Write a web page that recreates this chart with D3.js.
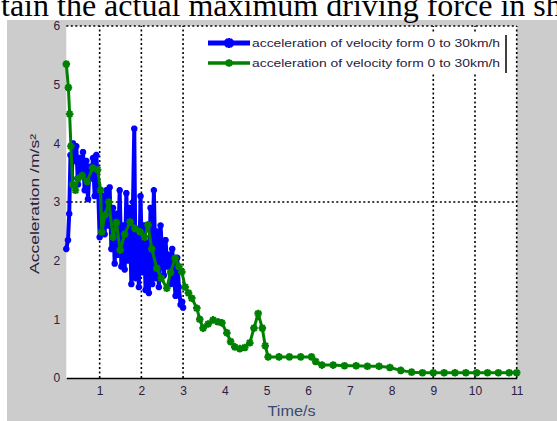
<!DOCTYPE html>
<html>
<head>
<meta charset="utf-8">
<script src="https://cdn.jsdelivr.net/npm/d3@7"></script>
<style>
  html, body { margin: 0; padding: 0; background: #fff; }
  svg { display: block; }
</style>
</head>
<body>
<svg id="chart" width="557" height="421"></svg>
<script>
// Acceleration traces, 0 to 30 km/h (time in s, acceleration in m/s^2)
const blueTime = [0.20,0.24,0.27,0.30,0.33,0.36,0.40,0.44,0.48,0.52,0.56,0.60,0.64,0.68,0.72,0.76,0.80,0.84,0.88,0.92,0.96,
  1.00,1.04,1.08,1.12,1.16,1.20,1.24,1.28,1.32,1.36,1.40,1.44,1.48,1.52,1.56,1.60,1.64,1.68,1.72,1.76,1.80,1.83,1.86,1.90,
  1.94,1.98,2.02,2.06,2.10,2.14,2.18,2.22,2.26,2.30,2.34,2.38,2.42,2.46,2.50,2.54,2.58,2.62,2.66,2.70,2.74,2.78,2.82,2.86,
  2.90,2.94,2.98,3.00];
const blueAccel = [2.20,2.35,2.80,3.80,3.40,4.00,3.70,3.95,3.30,3.75,3.50,3.85,3.20,3.70,3.05,3.60,3.40,3.75,3.10,3.80,3.30,
  2.40,2.55,3.10,2.45,3.20,2.60,3.25,2.20,2.90,1.95,2.80,2.10,3.20,1.90,2.60,1.85,3.15,2.00,2.90,1.60,3.00,4.25,1.70,2.40,
  1.55,3.10,1.80,2.60,1.50,2.30,1.45,2.90,1.60,3.20,1.70,2.50,1.55,2.60,2.10,1.75,2.35,1.90,2.10,1.60,2.20,1.75,1.40,2.05,
  1.55,1.25,1.30,1.20];

const greenTime = [0.20,0.25,0.28,0.31,0.35,0.42,0.48,0.58,0.70,0.83,0.95,1.02,1.05,1.13,1.22,1.32,1.40,1.49,1.60,1.73,1.85,
  1.97,2.08,2.16,2.25,2.37,2.48,2.61,2.70,2.81,2.90,2.97,3.05,3.13,3.21,3.33,3.40,3.48,3.60,3.72,3.83,3.93,4.05,4.14,4.24,
  4.36,4.48,4.60,4.70,4.80,4.90,4.97,5.04,5.30,5.55,5.82,6.08,6.18,6.33,6.60,6.87,7.15,7.42,7.70,7.96,8.22,8.48,8.74,9.00,
  9.26,9.52,9.78,10.04,10.30,10.56,10.82,11.00];
const greenAccel = [5.35,4.95,4.50,3.95,3.30,3.20,3.40,3.45,3.35,3.58,3.55,3.20,2.49,2.78,3.00,2.40,2.65,2.18,2.45,2.66,2.55,
  2.49,2.40,2.61,2.20,1.87,1.70,1.53,1.80,2.04,1.90,1.81,1.55,1.45,1.36,1.19,1.00,0.85,0.92,0.99,0.96,0.94,0.77,0.62,0.53,
  0.50,0.52,0.60,0.85,1.10,0.85,0.55,0.36,0.36,0.36,0.36,0.36,0.28,0.22,0.22,0.21,0.21,0.20,0.20,0.18,0.13,0.10,0.09,0.09,
  0.09,0.09,0.09,0.09,0.09,0.09,0.09,0.09];

const seriesNames = ["acceleration of velocity  form 0 to 30km/h", "acceleration of velocity  form 0 to 30km/h"];
const seriesColors = ["#0000ff", "#008000"];

const xTickValues = [1,2,3,4,5,6,7,8,9,10,11];
const yTickValues = [0,1,2,3,4,5,6];
const xGridValues = [1,2,3,9,10,11];
const yGridValues = [3,6];

const xDomain = [0.2, 11];
const yDomain = [0, 6];

const svg = d3.select("#chart");
const W = 557, H = 421;

// Page background and the line of body text above the figure
svg.append("rect").attr("x", 0).attr("y", 0).attr("width", W).attr("height", H).attr("fill", "#fff");

// Figure background
svg.append("rect").attr("x", 7).attr("y", 20).attr("width", W - 7).attr("height", H - 20).attr("fill", "#cccccc");

svg.append("text")
  .attr("x", 1).attr("y", 16)
  .attr("font-family", "'Liberation Serif', 'Times New Roman', serif")
  .attr("font-size", 32)
  .attr("fill", "#000")
  .text("tain the actual maximum driving force in sh");

const x = d3.scaleLinear().domain(xDomain).range([66.3, 516.7]);
const y = d3.scaleLinear().domain(yDomain).range([378, 26]);

// Axes area
svg.append("rect")
  .attr("x", x(xDomain[0])).attr("y", y(yDomain[1]))
  .attr("width", x(xDomain[1]) - x(xDomain[0]))
  .attr("height", y(yDomain[0]) - y(yDomain[1]))
  .attr("fill", "#fff");

// Dotted grid
const grid = svg.append("g").attr("stroke", "#000").attr("stroke-width", 1.6).attr("stroke-dasharray", "2,2.5");
grid.selectAll("line.gx").data(xGridValues).join("line")
  .attr("x1", d => x(d)).attr("x2", d => x(d))
  .attr("y1", y(yDomain[0])).attr("y2", y(yDomain[1]));
grid.selectAll("line.gy").data(yGridValues).join("line")
  .attr("x1", x(xDomain[0])).attr("x2", x(xDomain[1]))
  .attr("y1", d => y(d)).attr("y2", d => y(d));

// Bottom axis
const xAxis = d3.axisBottom(x).tickValues(xTickValues).tickSize(0).tickPadding(8).tickFormat(d3.format("d"));
const gx = svg.append("g").attr("transform", `translate(0,${y(0)})`).call(xAxis);
gx.select(".domain").attr("stroke", "#000").attr("stroke-width", 1.5);
gx.selectAll("text").attr("font-family", "Arial, 'Liberation Sans', sans-serif").attr("font-size", 12).attr("fill", "#2a2040");

// Left axis labels
const yAxis = d3.axisLeft(y).tickValues(yTickValues).tickSize(0).tickPadding(6).tickFormat(d3.format("d"));
const gy = svg.append("g").attr("transform", `translate(${x(xDomain[0])},0)`).call(yAxis);
gy.select(".domain").remove();
gy.selectAll("text").attr("font-family", "Arial, 'Liberation Sans', sans-serif").attr("font-size", 12).attr("fill", "#2a2040");

// Star marker like MATLAB '*'
function starPath(r) {
  const k = r * 0.72;
  return `M${-r},0H${r}M0,${-r}V${r}M${-k},${-k}L${k},${k}M${-k},${k}L${k},${-k}`;
}

const series = [
  { time: blueTime, accel: blueAccel, color: seriesColors[0], width: 4, marker: 3.2 },
  { time: greenTime, accel: greenAccel, color: seriesColors[1], width: 3, marker: 3.8 }
];

const line = d3.line().x(d => x(d[0])).y(d => y(d[1]));

series.forEach(s => {
  const pts = s.time.map((t, i) => [t, s.accel[i]]);
  svg.append("path").datum(pts)
    .attr("d", line)
    .attr("fill", "none")
    .attr("stroke", s.color)
    .attr("stroke-width", s.width)
    .attr("stroke-linejoin", "round");
  svg.append("g").selectAll("path").data(pts).join("path")
    .attr("transform", d => `translate(${x(d[0])},${y(d[1])})`)
    .attr("d", starPath(s.marker))
    .attr("fill", "none")
    .attr("stroke", s.color)
    .attr("stroke-width", 2.2);
});

// Legend
const legend = svg.append("g");
legend.append("rect").attr("x", 205).attr("y", 33).attr("width", 301).attr("height", 41).attr("fill", "#fff");
legend.append("line").attr("x1", 506).attr("x2", 506).attr("y1", 35).attr("y2", 73).attr("stroke", "#000").attr("stroke-width", 1.5);
const rows = [43, 63];
series.forEach((s, i) => {
  legend.append("line").attr("x1", 208).attr("x2", 250).attr("y1", rows[i]).attr("y2", rows[i])
    .attr("stroke", s.color).attr("stroke-width", i === 0 ? 5 : 3.5);
  legend.append("path").attr("transform", `translate(229,${rows[i]})`)
    .attr("d", starPath(i === 0 ? 5 : 3.8))
    .attr("fill", "none").attr("stroke", s.color).attr("stroke-width", i === 0 ? 3 : 2.4);
  legend.append("text").attr("x", 252).attr("y", rows[i] + 4)
    .attr("font-family", "Arial, 'Liberation Sans', sans-serif")
    .attr("font-size", 11)
    .attr("textLength", 248).attr("lengthAdjust", "spacingAndGlyphs")
    .attr("fill", "#2a2040")
    .text(seriesNames[i]);
});

// Axis titles
svg.append("text")
  .attr("x", (x(xDomain[0]) + x(xDomain[1])) / 2).attr("y", 416)
  .attr("text-anchor", "middle")
  .attr("font-family", "Arial, 'Liberation Sans', sans-serif")
  .attr("font-size", 14)
  .attr("textLength", 48).attr("lengthAdjust", "spacingAndGlyphs")
  .attr("fill", "#3a4a70")
  .text("Time/s");

svg.append("text")
  .attr("transform", "translate(39,204) rotate(-90)")
  .attr("text-anchor", "middle")
  .attr("font-family", "Arial, 'Liberation Sans', sans-serif")
  .attr("font-size", 13)
  .attr("textLength", 140).attr("lengthAdjust", "spacingAndGlyphs")
  .attr("fill", "#2a2040")
  .text("Acceleration /m/s²");
</script>
</body>
</html>
